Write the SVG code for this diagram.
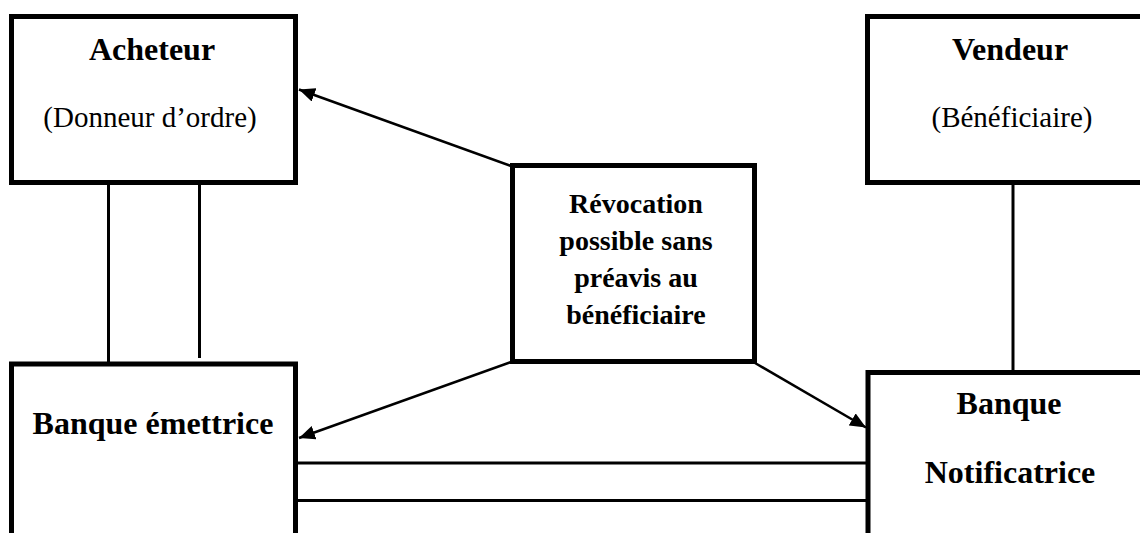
<svg xmlns="http://www.w3.org/2000/svg" width="1140" height="533" viewBox="0 0 1140 533">
  <style>
    .box { fill: #fff; stroke: #000; stroke-width: 5; }
    .link { stroke: #000; stroke-width: 3; fill: none; }
    .arrow { stroke: #000; stroke-width: 2.5; fill: none; marker-end: url(#head); }
    .t { font-family: "Liberation Serif", "Times New Roman", serif; fill: #000; text-anchor: middle; }
    .b { font-weight: bold; font-size: 32px; }
    .r { font-size: 29px; }
    .m { font-weight: bold; font-size: 28px; }
  </style>
  <defs>
    <marker id="head" markerUnits="userSpaceOnUse" markerWidth="18" markerHeight="14" refX="16" refY="7" orient="auto">
      <path d="M0,0 L16,7 L0,14 Z" fill="#000"/>
    </marker>
  </defs>
  <rect width="1140" height="533" fill="#fff"/>

  <g id="connectors">
    <!-- double links Acheteur / Banque émettrice -->
    <line class="link" x1="108.5" y1="184" x2="108.5" y2="364"/>
    <line class="link" x1="199.5" y1="184" x2="199.5" y2="358"/>
    <!-- Vendeur / Banque Notificatrice -->
    <line class="link" x1="1013" y1="184" x2="1013" y2="372"/>
    <!-- links between the two banks -->
    <line class="link" x1="297" y1="463" x2="867" y2="463"/>
    <line class="link" x1="297" y1="500.5" x2="867" y2="500.5"/>
    <!-- revocation arrows -->
    <line class="arrow" x1="511" y1="166" x2="299" y2="89.5"/>
    <line class="arrow" x1="511" y1="362" x2="299" y2="438"/>
    <line class="arrow" x1="755" y1="363" x2="866" y2="427.5"/>
  </g>

  <g id="acheteur">
    <rect class="box" x="11.5" y="16.5" width="284" height="166"/>
    <text class="t b" x="152" y="60">Acheteur</text>
    <text class="t r" x="150" y="127">(Donneur d’ordre)</text>
  </g>

  <g id="vendeur">
    <rect class="box" x="867.5" y="16.5" width="290" height="166"/>
    <text class="t b" x="1010" y="60">Vendeur</text>
    <text class="t r" x="1012" y="127">(Bénéficiaire)</text>
  </g>

  <g id="revocation">
    <rect class="box" x="512.5" y="165.5" width="242" height="196"/>
    <text class="t m" x="636" y="213">Révocation</text>
    <text class="t m" x="636" y="250">possible sans</text>
    <text class="t m" x="636" y="287">préavis au</text>
    <text class="t m" x="636" y="324">bénéficiaire</text>
  </g>

  <g id="banque-emettrice">
    <rect class="box" x="11.5" y="364" width="284" height="190"/>
    <text class="t b" x="153" y="434">Banque émettrice</text>
  </g>

  <g id="banque-notificatrice">
    <rect class="box" x="868" y="372.5" width="290" height="190"/>
    <text class="t b" x="1009" y="414">Banque</text>
    <text class="t b" x="1010" y="483">Notificatrice</text>
  </g>
</svg>
